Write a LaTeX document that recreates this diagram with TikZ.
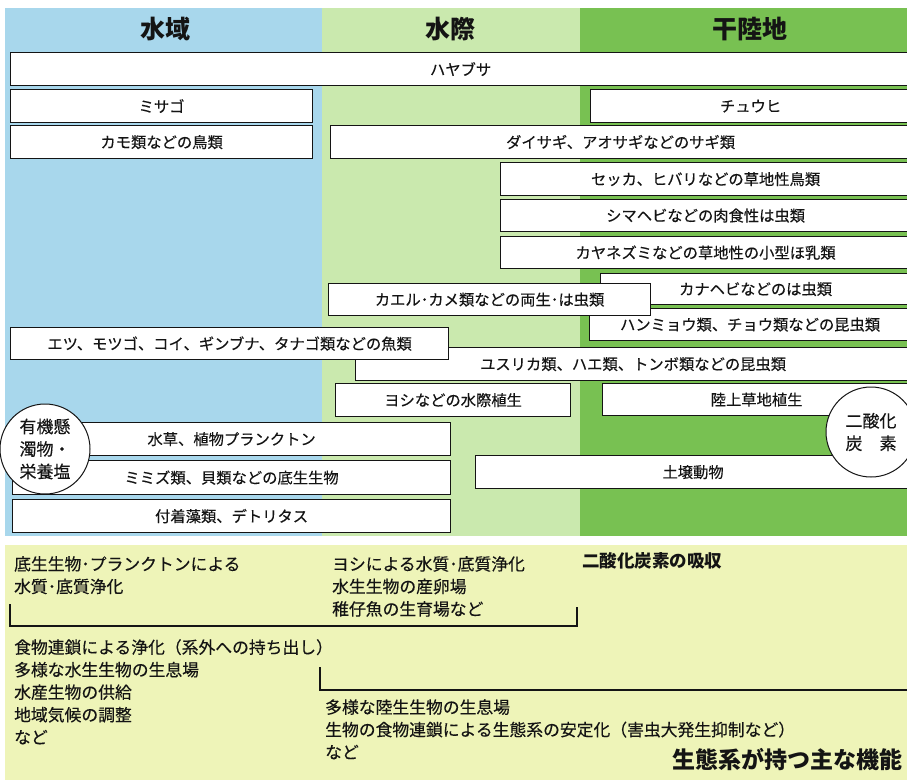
\documentclass[tikz,border=0pt]{standalone}
\usepackage{fontspec}
\setmainfont{Noto Sans CJK JP}
\newfontface\regfont{Noto Sans CJK JP}[FakeBold=0.3]
\definecolor{water}{RGB}{168,215,236}
\definecolor{shore}{RGB}{202,233,174}
\definecolor{land}{RGB}{120,193,82}
\definecolor{panel}{RGB}{238,244,184}
\definecolor{ink}{RGB}{20,20,20}
\tikzset{
  box/.style={draw=ink, line width=1.2pt, fill=white, rectangle, inner sep=0pt,
    anchor=north west, font=\regfont\fontsize{15.3}{16}\selectfont, text=ink},
  circ/.style={draw=ink, line width=1pt, fill=white, circle, inner sep=0pt,
    minimum size=90pt, align=left, font=\regfont\fontsize{17}{22.5}\selectfont, text=ink},
  head/.style={font=\bfseries\fontsize{25}{28}\selectfont, text=ink},
  ptext/.style={anchor=north west, align=left, inner sep=0pt, text=ink,
    font=\regfont\fontsize{16.8}{22.5}\selectfont},
  bracket/.style={line width=1.2pt, draw=ink},
}
\newcommand{\mybox}[6]{\node[box, minimum width=#4pt, minimum height=#5pt] (#1) at (#2,#3) {#6};}
\begin{document}
\begin{tikzpicture}[x=1pt,y=-1pt]
\useasboundingbox (0,0) rectangle (907,780);
\clip (0,0) rectangle (907,780);
\fill[white] (0,0) rectangle (907,780);
% zones
\fill[water] (5,8) rectangle (322,536);
\fill[shore] (322,8) rectangle (580,536);
\fill[land] (580,8) rectangle (907,536);
\fill[panel] (5,545) rectangle (907,780);
% headers
\node[head] (h1) at (165,29) {水域};
\node[head] (h2) at (450,29) {水際};
\node[head] (h3) at (750,29) {干陸地};
% boxes
\mybox{hayabusa}{10}{52}{900}{33}{ハヤブサ}
\mybox{misago}{10}{89}{302}{33}{ミサゴ}
\mybox{chuhi}{590}{89}{320}{33}{チュウヒ}
\mybox{kamo}{10}{125}{302}{33}{カモ類などの鳥類}
\mybox{sagi}{330}{125}{580}{33}{ダイサギ、アオサギなどのサギ類}
\mybox{sekka}{500}{162}{410}{33}{セッカ、ヒバリなどの草地性鳥類}
\mybox{shimahebi}{500}{199}{410}{32}{シマヘビなどの肉食性は虫類}
\mybox{kayanezumi}{500}{236}{410}{32}{カヤネズミなどの草地性の小型ほ乳類}
\mybox{kanahebi}{600}{273}{310}{31}{カナヘビなどのは虫類}
\mybox{hanmyo}{589}{308}{321}{32}{ハンミョウ類、チョウ類などの昆虫類}
\mybox{yusurika}{355}{347}{555}{33}{ユスリカ類、ハエ類、トンボ類などの昆虫類}
\mybox{kaeru}{328}{283}{322}{32}{カエル･カメ類などの両生･は虫類}
\mybox{etsu}{10}{327}{438}{32}{エツ、モツゴ、コイ、ギンブナ、タナゴ類などの魚類}
\mybox{yoshi}{335}{383}{235}{33}{ヨシなどの水際植生}
\mybox{rikujo}{602}{383}{308}{32}{陸上草地植生}
\mybox{mizukusa}{12}{422}{438}{33}{水草、植物プランクトン}
\mybox{mimizu}{12}{460}{438}{34}{ミミズ類、貝類などの底生生物}
\mybox{dojo}{475}{455}{435}{33}{土壌動物}
\mybox{fuchaku}{12}{499}{438}{33}{付着藻類、デトリタス}
% circles
\node[circ] (yuki) at (45,449) {有機懸\\濁物・\\栄養塩};
\node[circ] (co2) at (871,432) {二酸化\\炭\hspace{1em}素};
% functions panel
\node[ptext] (fa) at (14,556) {底生生物･プランクトンによる\\水質･底質浄化};
\node[ptext] (fb) at (332,556) {ヨシによる水質･底質浄化\\水生生物の産卵場\\稚仔魚の生育場など};
\node[ptext, font=\bfseries\fontsize{17.5}{20}\selectfont] (fc) at (582,552) {二酸化炭素の吸収};
\draw[bracket] (10,604) -- (10,626) -- (577,626) -- (577,607);
\node[ptext] (fd) at (14,639) {食物連鎖による浄化（系外への持ち出し）\\多様な水生生物の生息場\\水産生物の供給\\地域気候の調整\\など};
\draw[bracket] (320,667) -- (320,690) -- (907,690);
\node[ptext] (fe) at (325,699) {多様な陸生生物の生息場\\生物の食物連鎖による生態系の安定化（害虫大発生抑制など）\\など};
\node[anchor=east, inner sep=0pt, text=ink, font=\bfseries\fontsize{23}{26}\selectfont] (title) at (903,760) {生態系が持つ主な機能};
\end{tikzpicture}
\end{document}
